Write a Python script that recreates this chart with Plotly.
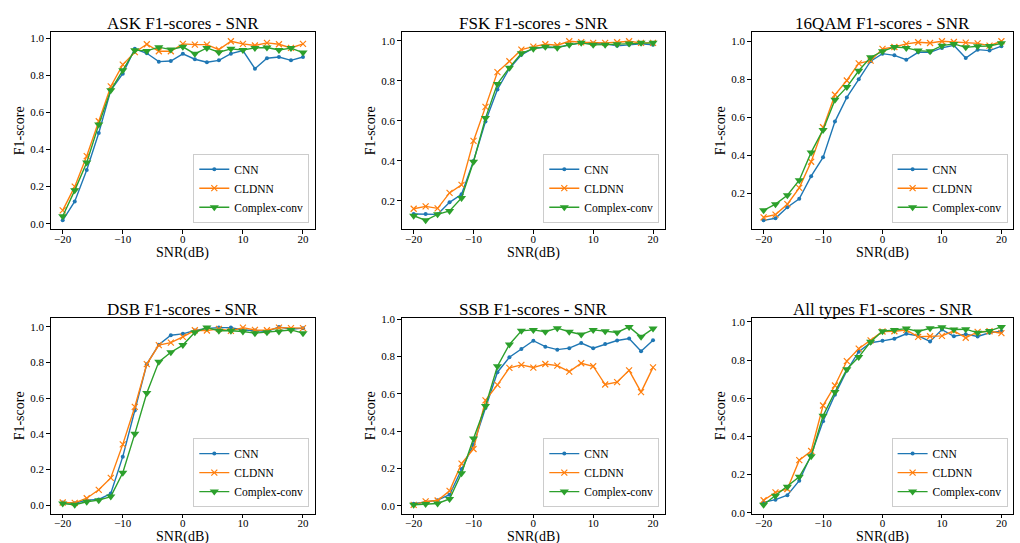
import plotly.graph_objects as go

# SNR grid shared by every panel (dB)
snr = list(range(-20, 21, 2))

# F1-scores per modulation type and model
ask_cnn = [0.018, 0.12, 0.29, 0.49, 0.72, 0.81, 0.944, 0.92, 0.875, 0.878, 0.917, 0.888, 0.872, 0.882, 0.918, 0.935, 0.837, 0.893, 0.90, 0.882, 0.90]
ask_cldnn = [0.072, 0.20, 0.365, 0.553, 0.741, 0.859, 0.926, 0.969, 0.931, 0.931, 0.971, 0.967, 0.967, 0.94, 0.985, 0.971, 0.962, 0.976, 0.969, 0.949, 0.971]
ask_cconv = [0.04, 0.18, 0.33, 0.535, 0.72, 0.828, 0.937, 0.933, 0.953, 0.94, 0.955, 0.917, 0.949, 0.926, 0.944, 0.938, 0.949, 0.951, 0.938, 0.948, 0.924]

fsk_cnn = [0.135, 0.135, 0.133, 0.193, 0.233, 0.40, 0.597, 0.757, 0.862, 0.93, 0.963, 0.968, 0.967, 0.98, 0.99, 0.987, 0.985, 0.975, 0.98, 0.985, 0.98]
fsk_cldnn = [0.161, 0.173, 0.163, 0.24, 0.28, 0.50, 0.67, 0.844, 0.898, 0.956, 0.971, 0.983, 0.978, 0.998, 0.993, 0.99, 0.99, 0.993, 0.998, 0.99, 0.99]
fsk_cconv = [0.126, 0.103, 0.133, 0.15, 0.215, 0.396, 0.614, 0.785, 0.866, 0.938, 0.961, 0.97, 0.966, 0.98, 0.99, 0.98, 0.981, 0.983, 0.987, 0.99, 0.99]

qam_cnn = [0.059, 0.07, 0.128, 0.172, 0.291, 0.39, 0.578, 0.705, 0.80, 0.895, 0.935, 0.926, 0.903, 0.942, 0.942, 0.965, 0.979, 0.912, 0.956, 0.951, 0.974]
qam_cldnn = [0.075, 0.089, 0.144, 0.23, 0.367, 0.548, 0.719, 0.794, 0.884, 0.898, 0.96, 0.97, 0.986, 0.995, 0.991, 1.0, 0.996, 0.993, 0.989, 0.977, 1.0]
qam_cconv = [0.112, 0.144, 0.191, 0.27, 0.416, 0.534, 0.692, 0.759, 0.845, 0.916, 0.947, 0.97, 0.965, 0.951, 0.947, 0.977, 0.986, 0.968, 0.974, 0.975, 0.989]

dsb_cnn = [0.015, 0.011, 0.028, 0.032, 0.065, 0.272, 0.531, 0.791, 0.90, 0.953, 0.961, 0.98, 0.991, 0.996, 0.996, 0.983, 0.98, 0.974, 1.0, 0.987, 0.993]
dsb_cldnn = [0.015, 0.013, 0.039, 0.086, 0.153, 0.341, 0.551, 0.791, 0.898, 0.912, 0.944, 0.981, 0.98, 0.989, 0.978, 0.996, 0.983, 0.981, 0.996, 0.993, 0.993]
dsb_cconv = [0.009, 0.002, 0.019, 0.028, 0.048, 0.182, 0.40, 0.629, 0.804, 0.858, 0.898, 0.97, 0.996, 0.978, 0.978, 0.974, 0.965, 0.97, 0.974, 0.983, 0.965]

ssb_cnn = [0.011, 0.02, 0.03, 0.059, 0.197, 0.329, 0.524, 0.716, 0.796, 0.84, 0.885, 0.853, 0.837, 0.845, 0.872, 0.845, 0.867, 0.886, 0.897, 0.828, 0.888]
ssb_cldnn = [0.005, 0.023, 0.028, 0.08, 0.226, 0.304, 0.565, 0.648, 0.739, 0.755, 0.741, 0.76, 0.751, 0.719, 0.764, 0.748, 0.65, 0.663, 0.726, 0.609, 0.742]
ssb_cconv = [0.005, 0.009, 0.012, 0.036, 0.174, 0.361, 0.535, 0.748, 0.865, 0.938, 0.943, 0.933, 0.952, 0.933, 0.918, 0.943, 0.936, 0.929, 0.959, 0.906, 0.95]

all_cnn = [0.055, 0.069, 0.092, 0.168, 0.303, 0.48, 0.619, 0.745, 0.844, 0.891, 0.901, 0.912, 0.938, 0.927, 0.898, 0.96, 0.925, 0.936, 0.924, 0.943, 0.951]
all_cldnn = [0.066, 0.107, 0.125, 0.276, 0.324, 0.562, 0.667, 0.795, 0.86, 0.903, 0.95, 0.951, 0.958, 0.922, 0.925, 0.927, 0.953, 0.917, 0.948, 0.951, 0.941]
all_cconv = [0.042, 0.09, 0.137, 0.189, 0.296, 0.508, 0.633, 0.752, 0.816, 0.896, 0.951, 0.958, 0.965, 0.95, 0.967, 0.972, 0.96, 0.962, 0.943, 0.953, 0.974]

panel_titles = ["ASK F1-scores - SNR", "FSK F1-scores - SNR", "16QAM F1-scores - SNR",
                "DSB F1-scores - SNR", "SSB F1-scores - SNR", "All types F1-scores - SNR"]
panel_data = [
    (ask_cnn, ask_cldnn, ask_cconv),
    (fsk_cnn, fsk_cldnn, fsk_cconv),
    (qam_cnn, qam_cldnn, qam_cconv),
    (dsb_cnn, dsb_cldnn, dsb_cconv),
    (ssb_cnn, ssb_cldnn, ssb_cconv),
    (all_cnn, all_cldnn, all_cconv),
]
model_names = ["CNN", "CLDNN", "Complex-conv"]
x_label = "SNR(dB)"
y_label = "F1-score"

W, H = 1020, 543
SERIF = "Liberation Serif"

# model styling: colour, marker symbol, marker size
styles = [
    ("#1f77b4", "circle", 4),
    ("#ff7f0e", "x-thin", 6),
    ("#2ca02c", "triangle-down", 8),
]

# plot-area frames in pixels: (left, right, top, bottom)
col_px = [(50.7, 315.0), (401.7, 665.0), (751.7, 1013.3)]
row_px = [(32.3, 229.3), (318.0, 513.7)]

fig = go.Figure()
layout = dict(
    width=W, height=H,
    margin=dict(l=0, r=0, t=0, b=0),
    paper_bgcolor="white", plot_bgcolor="white",
    font=dict(family=SERIF, color="black"),
    annotations=[],
)

for i, (title, series) in enumerate(zip(panel_titles, panel_data)):
    r, c = divmod(i, 3)
    l_px, r_px = col_px[c]
    t_px, b_px = row_px[r]
    n = i + 1
    xa = "x" if n == 1 else f"x{n}"
    ya = "y" if n == 1 else f"y{n}"
    lg = "legend" if n == 1 else f"legend{n}"

    for name, vals, (color, sym, size) in zip(model_names, series, styles):
        marker = dict(color=color, symbol=sym, size=size)
        if sym == "x-thin":
            marker["line"] = dict(color=color, width=1.2)
        fig.add_trace(go.Scatter(
            x=snr, y=vals, name=name, mode="lines+markers",
            line=dict(color=color, width=1.4), marker=marker,
            xaxis=xa, yaxis=ya, legend=lg,
        ))

    # autoscale with 5% padding on each side
    lo = min(min(s) for s in series)
    hi = max(max(s) for s in series)
    pad = (hi - lo) * 0.05

    axis_common = dict(
        showline=True, linecolor="black", linewidth=1, mirror=True,
        ticks="outside", ticklen=3.5, tickwidth=0.8, tickcolor="black",
        showgrid=False, zeroline=False,
        tickfont=dict(family=SERIF, size=11, color="black"),
        automargin=False,
    )
    layout["xaxis" if n == 1 else f"xaxis{n}"] = dict(
        axis_common, domain=[l_px / W, r_px / W], range=[-22, 22],
        tickvals=[-20, -10, 0, 10, 20], anchor=ya, ticklabelstandoff=-4,
    )
    layout["yaxis" if n == 1 else f"yaxis{n}"] = dict(
        axis_common, domain=[1 - b_px / H, 1 - t_px / H], range=[lo - pad, hi + pad],
        dtick=0.2, tick0=0, tickformat=".1f", anchor=xa,
        title=dict(text=y_label, font=dict(family=SERIF, size=14), standoff=2),
    )
    layout[lg] = dict(
        x=(r_px - 5.7) / W, y=1 - (b_px - 6.6) / H,
        xanchor="right", yanchor="bottom",
        bgcolor="rgba(255,255,255,0.8)", bordercolor="#cccccc", borderwidth=1,
        font=dict(family=SERIF, size=11.5, color="black"),
        tracegroupgap=0, itemwidth=30,
    )
    # panel title
    layout["annotations"].append(dict(
        text=title, x=(l_px + r_px) / 2 / W, y=1 - (t_px - 8.5) / H,
        xref="paper", yref="paper", xanchor="center", yanchor="middle",
        showarrow=False, font=dict(family=SERIF, size=17, color="black"),
    ))
    # x-axis label under the tick labels
    layout["annotations"].append(dict(
        text=x_label, x=(l_px + r_px) / 2 / W, y=1 - (b_px + 23.5) / H,
        xref="paper", yref="paper", xanchor="center", yanchor="middle",
        showarrow=False, font=dict(family=SERIF, size=14, color="black"),
    ))

fig.update_layout(**layout)
fig.write_html("out.html")
